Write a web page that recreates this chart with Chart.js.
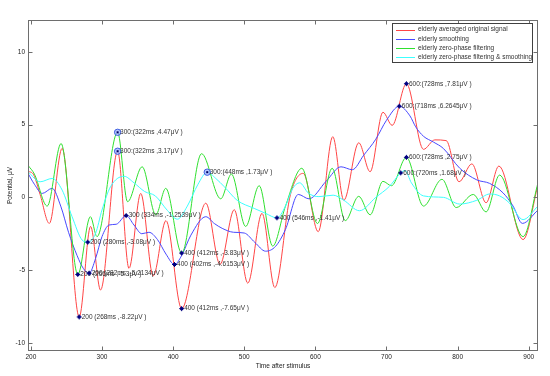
<!DOCTYPE html>
<html><head><meta charset="utf-8">
<script src="https://cdn.jsdelivr.net/npm/chart.js@4.4.0/dist/chart.umd.min.js"></script>
<style>html,body{margin:0;padding:0;background:#fff;}canvas{display:block;}</style>
</head><body>
<canvas id="c" width="550" height="376"></canvas>
<script>
// ---- data ----
const seriesLabels = ["elderly averaged original signal", "elderly smoothing", "elderly zero-phase filtering", "elderly zero-phase filtering & smoothing"];
const seriesColors = ["#ff4545", "#4848ff", "#2fe02f", "#3cffff"];

const redT = [196,204,213,226,244,268,284,298,322,338,354.5,372,390,412,446,466,486,505,525,543,565,583,604,624.5,640,661,677,695,708,728,752,768,784,802,820,840,858,892,913];
const redV = [1.8,1.55,0.2,-1.79,3.37,-8.22,-2.0,-6.37,3.17,-4.88,0.27,-5.4,-1.6,-7.65,-0.4,-4.6,-0.85,-5.9,-1.1,-6.2,0.2,1.65,-2.36,4.17,-0.2,3.75,1.76,5.85,4.95,7.81,3.3,3.95,3.9,1.07,2.3,-0.37,2.15,-2.9,0.85];

const blueT = [196,205,216,230,242,253,265,274,282,291,300,310,320,334,345,356,366,378,390,402,412,425,446,458,469,485,500,515,530,544,558,576,591,615,636,652,668,685,700,718,733,741,752,766,780,803,827,845,864,878,891,913];
const blueV = [1.65,0.9,0.27,0.62,-0.6,-2.4,-4.0,-4.9,-5.2134,-4.2,-2.7,-1.9,-1.85,-1.2539,-1.9,-2.5,-2.4,-2.9,-3.9,-4.6153,-4.0,-2.6,-1.33,-1.8,-2.13,-2.4,-2.45,-3.1,-3.7,-3.37,-2.2,0.2,-0.1,1.1,2.1,1.9,2.9,4.0,5.3,6.2645,5.6,4.85,4.2,3.8,3.36,2.0,1.2,0.96,0.3,-0.6,-1.79,-0.87];

const greenT = [196,205,223,242.5,266,283.7,293,322,336,356.5,375.7,389.7,412,440,467,482,502,521,540,558,581,603,623.6,642,661,677,695,707,728,752,778,798,822,840,859,892,913];
const greenV = [2.2,1.6,-0.6,3.7,-5.3,-1.33,-2.7,4.47,-0.3,2.1,-1.2,0.62,-3.83,3.0,-0.1,1.6,-2.0,0.8,-3.35,-0.6,2.0,-1.8,2.0,-1.6,0.07,-1.2,1.1,0.8,2.75,-0.6,1.24,-0.7,0.2,-1.0,1.53,-2.7,1.0];

const cyanT = [196,213,230,244,258,272,280,291,300,312,331,345,360,375,392,406,420,435,448,460,472,490,514,530,546,558,568,578,590,605,625,640,662,685,704,720,726,735,752,780,803,827,845,859,873,892,913];
const cyanV = [1.76,1.07,1.3,0.5,-1.33,-2.93,-3.08,-2.48,-0.87,0.73,1.45,1.0,0.4,0.1,-0.9,-1.5,-0.6,0.9,1.73,1.3,0.73,-0.2,-0.76,-1.1,-1.41,-0.6,0.6,1.0,0.3,0.05,0.15,-0.2,-0.92,0.0,0.75,1.68,1.85,1.0,0.1,0.0,-0.46,-0.2,0.23,0.1,-0.4,-1.53,-0.6];

const xTicks = [200,300,400,500,600,700,800,900];
const yTicks = [-10,-5,0,5,10];

const annT = [268,266,282,280,322,322,334,412,412,402,448,546,728,718,728,720];
const annV = [-8.22,-5.3,-5.2134,-3.08,4.47,3.17,-1.2539,-7.65,-3.83,-4.6153,1.73,-1.41,7.81,6.2645,2.75,1.68];
const annText = ["200 (268ms ,-8.22\u03bcV )","200 (266ms ,-5.3\u03bcV )","200 (282ms ,-5.2134\u03bcV )","200 (280ms ,-3.08\u03bcV )","300:(322ms ,4.47\u03bcV )","300:(322ms ,3.17\u03bcV )","300 (334ms ,-1.2539\u03bcV )","400 (412ms ,-7.65\u03bcV )","400 (412ms ,-3.83\u03bcV )","400 (402ms ,-4.6153\u03bcV )","300:(448ms ,1.73\u03bcV )","400 (546ms ,-1.41\u03bcV )","600:(728ms ,7.81\u03bcV )","600:(718ms ,6.2645\u03bcV )","600:(728ms ,2.75\u03bcV )","600:(720ms ,1.68\u03bcV )"];
const annStyle = ["+","+","+","+","o","o","+","+","+","+","o","+","+","+","+","+"];

const xTitle = "Time after stimulus";
const yTitle = "Potential, \u03bcV";

// ---- chart ----
const FONT = "Liberation Sans";
const pts = (t, v) => t.map((x, i) => ({x: x, y: v[i]}));
const allT = [redT, blueT, greenT, cyanT];
const allV = [redV, blueV, greenV, cyanV];

const datasets = seriesLabels.map((lab, i) => ({
  label: lab,
  data: pts(allT[i], allV[i]),
  borderColor: seriesColors[i],
  borderWidth: 1,
  pointRadius: 0,
  fill: false,
  cubicInterpolationMode: 'monotone',
  order: 4 - i
}));

const overlay = {
  id: 'overlay',
  afterDraw(chart) {
    const ctx = chart.ctx;
    const a = chart.chartArea;
    const xs = chart.scales.x, ys = chart.scales.y;
    ctx.save();
    const L = Math.round(a.left) + 0.5, R = Math.round(a.right) - 0.5;
    const T = Math.round(a.top) + 0.5, B = Math.round(a.bottom) - 0.5;
    // frame
    ctx.strokeStyle = '#6e6e6e';
    ctx.lineWidth = 1;
    ctx.strokeRect(L, T, R - L, B - T);
    // inner ticks
    ctx.beginPath();
    xTicks.forEach(v => {
      const p = Math.round(xs.getPixelForValue(v)) + 0.5;
      ctx.moveTo(p, B); ctx.lineTo(p, B - 4);
      ctx.moveTo(p, T); ctx.lineTo(p, T + 4);
    });
    yTicks.forEach(v => {
      const p = Math.round(ys.getPixelForValue(v)) + 0.5;
      ctx.moveTo(L, p); ctx.lineTo(L + 4, p);
      ctx.moveTo(R, p); ctx.lineTo(R - 4, p);
    });
    ctx.stroke();

    // annotations
    ctx.font = '6.5px "' + FONT + '"';
    ctx.textBaseline = 'middle';
    ctx.textAlign = 'left';
    annT.forEach((t, i) => {
      const px = xs.getPixelForValue(t), py = ys.getPixelForValue(annV[i]);
      if (annStyle[i] === 'o') {
        ctx.beginPath();
        ctx.arc(px, py, 3.2, 0, Math.PI * 2);
        ctx.fillStyle = 'rgba(160,180,255,0.8)';
        ctx.fill();
        ctx.strokeStyle = '#4060e0';
        ctx.stroke();
        ctx.fillStyle = '#000060';
        ctx.fillRect(px - 1, py - 1, 2, 2);
      } else {
        ctx.fillStyle = '#000080';
        ctx.fillRect(px - 1.5, py - 1.5, 3, 3);
        ctx.strokeStyle = '#000080';
        ctx.beginPath();
        ctx.moveTo(px - 2.5, py); ctx.lineTo(px + 2.5, py);
        ctx.moveTo(px, py - 2.5); ctx.lineTo(px, py + 2.5);
        ctx.stroke();
      }
      ctx.fillStyle = '#333';
      ctx.fillText(annText[i], px + 2.5, py);
    });

    // legend
    const lx = 392.5, ly = 23.5, lw = 140, lh = 39;
    ctx.fillStyle = '#fff';
    ctx.fillRect(lx, ly, lw, lh);
    ctx.strokeStyle = '#404040';
    ctx.strokeRect(lx, ly, lw, lh);
    seriesLabels.forEach((lab, i) => {
      const yy = 29.5 + i * 9.3;
      ctx.strokeStyle = seriesColors[i];
      ctx.beginPath();
      ctx.moveTo(396, Math.round(yy) + 0.5); ctx.lineTo(415, Math.round(yy) + 0.5);
      ctx.stroke();
      ctx.fillStyle = '#333';
      ctx.fillText(lab, 418, yy);
    });

    // axis titles
    ctx.fillStyle = '#222';
    ctx.textAlign = 'center';
    ctx.fillText(xTitle, (a.left + a.right) / 2, 366);
    ctx.save();
    ctx.translate(10, (a.top + a.bottom) / 2);
    ctx.rotate(-Math.PI / 2);
    ctx.fillText(yTitle, 0, 0);
    ctx.restore();
    ctx.restore();
  }
};

new Chart(document.getElementById('c'), {
  type: 'line',
  data: { datasets: datasets },
  options: {
    responsive: false,
    devicePixelRatio: 1,
    animation: false,
    layout: { padding: { top: 20, right: 12, left: 0, bottom: 0 } },
    plugins: { legend: { display: false }, tooltip: { enabled: false } },
    scales: {
      x: {
        type: 'linear', min: 196, max: 913,
        afterBuildTicks: s => { s.ticks = xTicks.map(v => ({ value: v })); },
        afterFit: s => { s.height = 25; },
        grid: { drawOnChartArea: false, drawTicks: false },
        border: { display: false },
        ticks: { font: { family: FONT, size: 6.5 }, color: '#222', padding: 2, maxRotation: 0 }
      },
      y: {
        type: 'linear', min: -10.56, max: 12.19,
        afterBuildTicks: s => { s.ticks = yTicks.map(v => ({ value: v })); },
        afterFit: s => { s.width = 28; },
        grid: { drawOnChartArea: false, drawTicks: false },
        border: { display: false },
        ticks: { font: { family: FONT, size: 6.5 }, color: '#222', padding: 3 }
      }
    }
  },
  plugins: [overlay]
});
</script>
</body></html>
